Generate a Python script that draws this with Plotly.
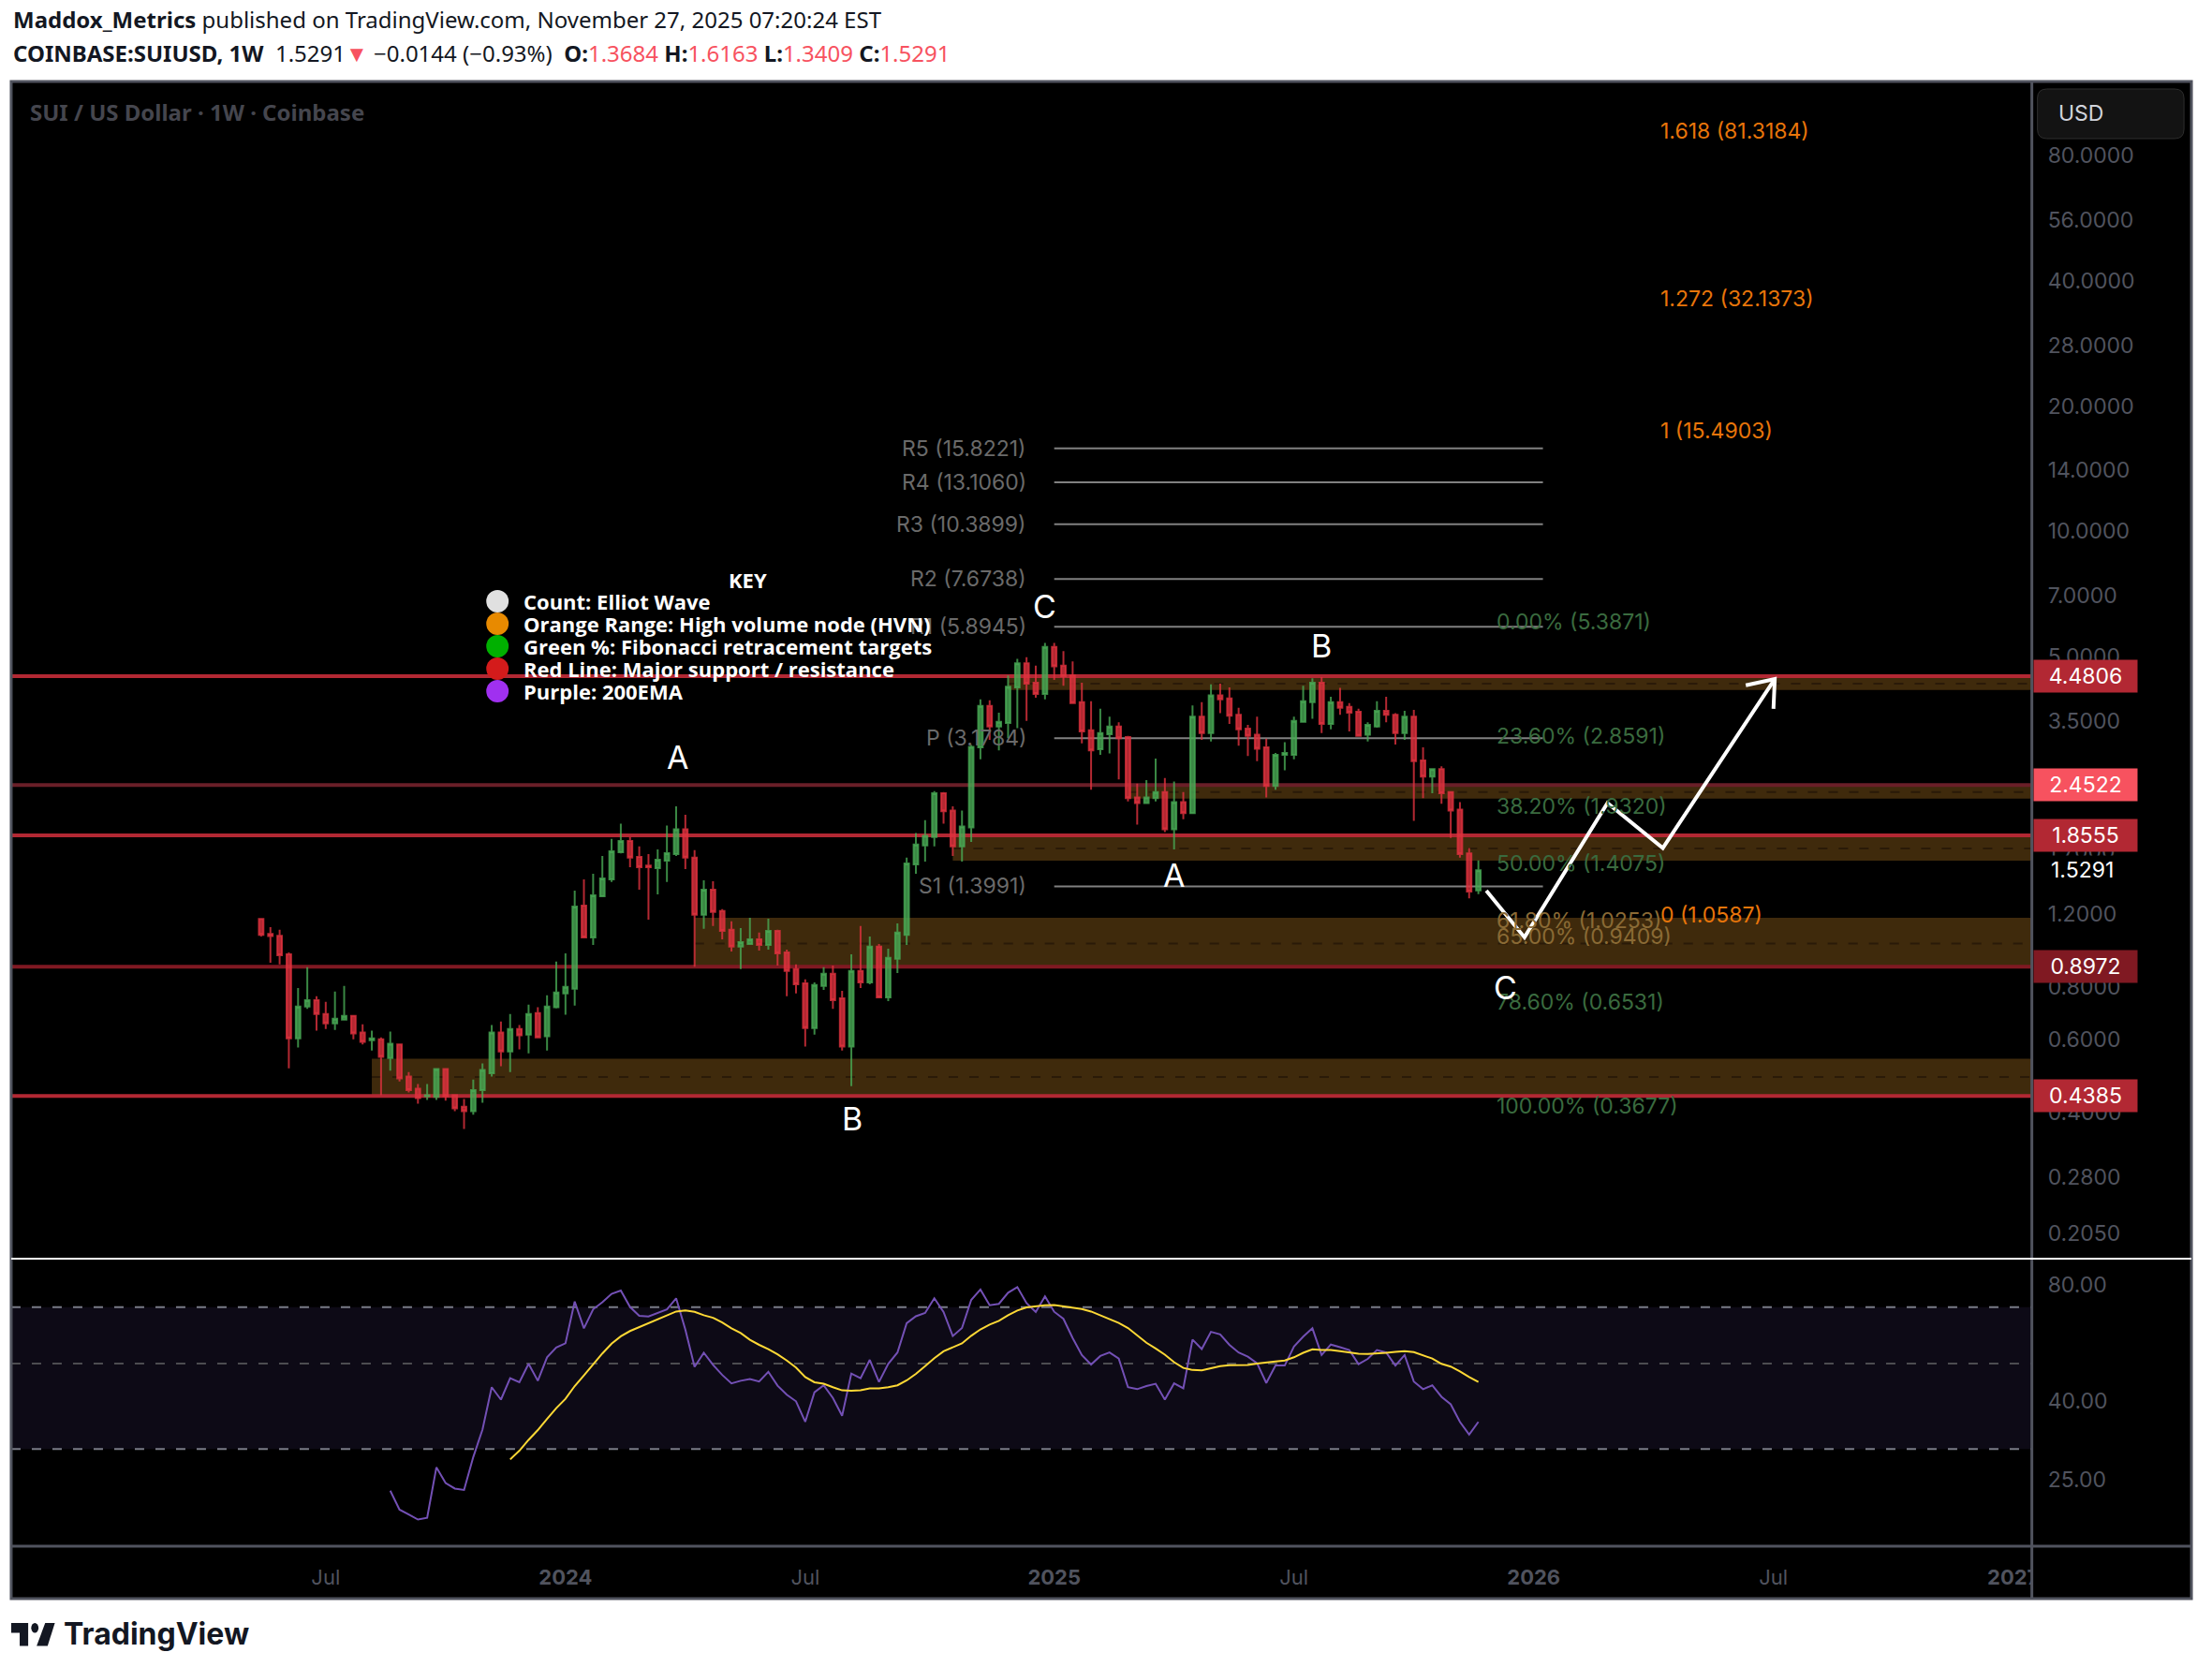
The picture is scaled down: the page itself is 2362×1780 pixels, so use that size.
import math
import pandas as pd
import plotly.graph_objects as go
from plotly.subplots import make_subplots

W = 2362
H = 1780

# weekly candles
opens = [1.168,1.075,1.064,.961,.603,.719,.745,.690,.655,.669,.683,.623,.597,.600,.541,.583,.488,.456,.438,.436,.509,.440,.413,.403,.453,.497,.623,.561,.635,.616,.694,.610,.716,.773,.794,1.258,1.055,1.325,1.455,1.69,1.80,1.647,1.57,1.547,1.613,1.673,1.92,1.64,1.195,1.374,1.22,1.10,1.002,1.017,1.044,1.012,1.094,.971,.885,.818,.638,.806,.862,.753,.576,.876,.822,1.002,.757,.937,1.07,1.58,1.756,1.84,2.345,2.13,1.745,1.94,3.02,3.80,3.39,3.46,4.21,4.81,4.32,4.06,5.27,4.75,4.50,3.88,3.32,2.99,3.25,3.39,3.20,2.29,2.22,2.28,2.36,1.92,2.23,2.10,3.58,3.27,4.03,3.96,3.62,3.35,3.24,3.02,2.44,2.90,2.90,3.48,3.88,4.32,3.44,3.88,3.78,3.68,3.24,3.39,3.70,3.62,3.27,3.58,2.81,2.57,2.68,2.36,2.14,1.68,1.3684]
highs = [1.170,1.117,1.100,.971,.797,.894,.761,.738,.781,.806,.685,.652,.629,.606,.626,.585,.500,.468,.468,.511,.511,.440,.431,.480,.525,.649,.662,.690,.649,.727,.716,.765,.922,.966,1.367,1.455,1.50,1.656,1.82,1.98,1.84,1.745,1.673,1.716,1.96,2.18,2.08,1.71,1.447,1.44,1.233,1.153,1.111,1.176,1.083,1.17,1.10,.986,.908,.836,.822,.894,.903,.785,.961,1.123,1.06,1.017,.991,1.14,1.64,1.88,2.02,2.37,2.36,2.18,2.13,3.06,3.94,3.92,3.66,4.50,4.93,4.98,4.75,5.39,5.39,5.15,4.86,4.32,3.90,3.74,3.58,3.47,3.22,2.47,2.52,2.84,2.55,2.50,2.36,3.81,3.88,4.28,4.30,4.21,3.76,3.42,3.58,3.17,2.93,3.11,3.58,4.25,4.43,4.46,4.00,4.20,3.86,3.74,3.47,3.90,4.00,3.65,3.70,3.72,3.02,2.69,2.72,2.37,2.23,1.73,1.6163]
lows = [1.060,.917,.908,.511,.573,.710,.629,.635,.632,.669,.600,.583,.564,.440,.504,.475,.447,.420,.429,.429,.427,.403,.365,.395,.422,.488,.517,.500,.567,.555,.603,.564,.712,.687,.723,1.05,1.012,1.32,1.433,1.68,1.555,1.374,1.164,1.339,1.433,1.656,1.54,.897,1.106,1.123,1.044,.975,.885,1.012,.981,.986,.903,.761,.773,.576,.616,.789,.71,.564,.463,.797,.814,.755,.741,.866,1.012,1.50,1.605,1.745,1.98,1.656,1.605,1.79,2.83,3.15,2.97,3.18,3.36,3.50,3.98,3.94,4.39,4.25,3.85,3.09,2.39,2.90,2.92,2.53,2.24,1.97,2.21,2.24,1.89,1.716,2.03,2.09,3.15,3.12,3.65,3.44,3.05,2.88,2.80,2.29,2.39,2.66,2.83,3.47,3.54,3.27,3.34,3.62,3.30,3.21,3.12,3.37,3.47,3.07,3.15,2.01,2.28,2.345,2.21,1.83,1.64,1.31,1.3409]
closes = [1.070,1.062,.956,.603,.719,.745,.690,.655,.672,.683,.620,.591,.603,.544,.585,.483,.453,.433,.440,.509,.438,.409,.403,.453,.506,.623,.561,.635,.613,.690,.606,.719,.777,.802,1.252,1.055,1.332,1.462,1.70,1.80,1.64,1.555,1.555,1.622,1.681,1.92,1.64,1.195,1.374,1.214,1.094,1.002,1.028,1.044,1.012,1.094,.966,.876,.814,.638,.81,.862,.745,.576,.876,.822,1.002,.757,.942,1.083,1.589,1.765,1.85,2.345,2.12,1.745,1.95,3.03,3.80,3.39,3.48,4.23,4.81,4.30,4.06,5.27,4.73,4.48,3.86,3.30,2.97,3.27,3.39,3.18,2.28,2.22,2.29,2.36,1.92,2.23,2.10,3.58,3.27,4.03,3.94,3.60,3.34,3.22,3.00,2.44,2.90,2.93,3.50,3.90,4.32,3.44,3.88,3.76,3.66,3.22,3.42,3.70,3.62,3.27,3.58,2.80,2.57,2.68,2.345,2.13,1.673,1.36,1.5291]
dates = pd.date_range("2023-05-15", periods=len(opens), freq="7D")
assert len(opens) == len(highs) == len(lows) == len(closes) == 133, (len(opens), len(highs), len(lows), len(closes))

# rsi + its moving average, both run up to the last candle
rsi_values = [23.4,20.9,20.3,19.7,19.9,26.9,24.5,23.7,23.5,28.6,33.7,43.4,40.3,45.8,44.7,49.9,45.1,51.9,55.0,56.4,72.4,61.7,69.1,72.1,75.8,77.3,70.1,66.5,66.2,67.6,69.1,73.8,61.2,49.0,53.3,49.6,46.7,44.4,45.1,45.6,44.9,47.6,43.8,41.5,39.9,35.3,42.1,43.9,40.7,36.6,47.1,45.8,51.1,44.8,49.9,53.4,63.6,66.3,67.6,73.8,68.0,58.9,61.8,73.1,77.8,70.8,71.4,76.3,78.9,71.7,68.0,74.7,68.1,65.3,58.2,52.6,49.7,52.3,53.4,51.5,43.4,42.9,43.7,44.3,40.3,44.4,43.1,57.7,54.5,60.4,59.5,55.9,53.4,52.1,50.1,44.5,49.4,49.4,55.3,58.7,61.7,52.6,56.0,55.1,54.2,49.8,51.4,54.2,53.4,49.4,52.6,44.9,42.9,43.9,41.0,39.2,35.3,32.7,35.3]
rsi_ma = [28.2,29.7,31.7,33.6,35.9,38.3,40.5,43.7,46.6,49.9,53.1,56.3,58.8,60.7,62.1,63.7,64.9,66.6,68.2,68.6,68.1,66.7,65.7,63.9,61.7,60.0,57.6,55.9,54.5,52.8,50.9,48.8,46.1,44.7,44.3,43.4,42.6,42.5,42.6,43.1,43.1,43.4,43.9,45.2,47.0,49.2,51.6,53.8,55.0,56.4,59.0,61.3,63.1,64.5,66.7,68.6,69.9,70.4,70.8,70.9,70.3,69.5,69.2,68.2,66.7,65.0,63.7,61.8,59.3,56.6,54.7,52.7,50.4,48.7,48.1,48.0,48.6,49.2,49.5,49.6,49.6,50.0,50.2,50.6,50.9,51.9,53.3,54.4,54.2,54.2,53.8,53.3,53.0,52.9,53.0,53.3,53.6,53.8,53.5,52.6,51.5,49.9,49.1,47.7,46.1,44.8]

# levels drawn on the chart
level_prices = [4.4806, 2.4522, 1.8555, 0.8972, 0.4385]
level_lines = ["#b22833", "#6a1f28", "#b22833", "#801922", "#b22833"]
level_boxes = ["#b22833", "#f7525f", "#b22833", "#801922", "#b22833"]

zone_starts = ["2023-08-07", "2024-04-08", "2024-10-21", "2025-03-03", "2024-12-02"]
zone_tops = [0.5386, 1.176, 1.8555, 2.4522, 4.4806]
zone_bottoms = [0.4385, 0.8972, 1.613, 2.275, 4.15]
zone_mids = [0.487, 1.02, 1.725, 2.36, 4.30]

pivot_names = ["R5", "R4", "R3", "R2", "R1", "P", "S1"]
pivot_prices = [15.8221, 13.1060, 10.3899, 7.6738, 5.8945, 3.1784, 1.3991]

fib_names = ["0.00%", "23.60%", "38.20%", "50.00%", "61.80%", "65.00%", "78.60%", "100.00%"]
fib_prices = [5.3871, 2.8591, 1.9320, 1.4075, 1.0253, 0.9409, 0.6531, 0.3677]
fib_colors = ["#3a6b3f", "#3a6b3f", "#3a6b3f", "#3a6b3f", "#8a6a35", "#8a6a35", "#3a6b3f", "#3a6b3f"]

ext_names = ["1.618", "1.272", "1", "0"]
ext_prices = [81.3184, 32.1373, 15.4903, 1.0587]

wave_names = ["A", "B", "C", "A", "B", "C"]
wave_px = [726, 913, 1119, 1258, 1416, 1613]
wave_py = [809, 1194, 648, 934, 690, 1054]

path_dates = ["2025-11-30", "2025-12-29", "2026-03-02", "2026-04-13", "2026-07-07"]
path_prices = [1.367, 1.055, 2.22, 1.73, 4.41]
head_dates = ["2026-06-15", "2026-07-07", "2026-07-06"]
head_prices = [4.26, 4.41, 3.74]

price_ticks = [80, 56, 40, 28, 20, 14, 10, 7, 5, 3.5, 2.4, 1.7, 1.2, 0.8, 0.6, 0.4, 0.28, 0.205]
rsi_ticks = [80, 40, 25]
rsi_lines = [70, 50, 30]
rsi_line_colors = ["#787b86", "#4c4c50", "#787b86"]
time_ticks = ["2023-07-03", "2024-01-01", "2024-07-01", "2025-01-06", "2025-07-07", "2026-01-05", "2026-07-06", "2027-01-04"]
time_labels = ["Jul", "<b>2024</b>", "Jul", "<b>2025</b>", "Jul", "<b>2026</b>", "Jul", "<b>2027</b>"]

key_names = ["Count: Elliot Wave", "Orange Range: High volume node (HVN)", "Green %: Fibonacci retracement targets",
             "Red Line: Major support / resistance", "Purple: 200EMA"]
key_colors = ["#e0e0e0", "#e88a00", "#00b000", "#d41b1b", "#a030f0"]
key_py = [642, 666, 690, 714, 738]


def px(x):
    return x / W


def py(y):
    return 1 - y / H


def week_at(x):
    # last candle sits at x=1584, one week is 9.88 pixels
    return dates[-1] + pd.Timedelta(days=(x - 1584) / 9.88 * 7)


x_left = str(week_at(12))
x_right = str(week_at(2177))

fig = make_subplots(rows=2, cols=1, shared_xaxes=True, vertical_spacing=0)

fig.add_trace(go.Candlestick(
    x=dates, open=opens, high=highs, low=lows, close=closes,
    increasing=dict(line=dict(color="rgba(72,170,85,0.8)", width=2), fillcolor="rgba(72,170,85,0.8)"),
    decreasing=dict(line=dict(color="rgba(224,50,63,0.8)", width=2), fillcolor="rgba(224,50,63,0.8)"),
    whiskerwidth=0, hoverinfo="skip",
), row=1, col=1)

fig.add_trace(go.Scatter(x=path_dates, y=path_prices, mode="lines", line=dict(color="white", width=4), hoverinfo="skip"), row=1, col=1)
fig.add_trace(go.Scatter(x=head_dates, y=head_prices, mode="lines", line=dict(color="white", width=4), hoverinfo="skip"), row=1, col=1)

fig.add_trace(go.Scatter(x=dates[-len(rsi_values):], y=rsi_values, mode="lines", line=dict(color="#7350b5", width=2), hoverinfo="skip"), row=2, col=1)
fig.add_trace(go.Scatter(x=dates[-len(rsi_ma):], y=rsi_ma, mode="lines", line=dict(color="#fdd835", width=2), hoverinfo="skip"), row=2, col=1)

shapes = []

# page pieces
shapes.append(dict(type="rect", xref="paper", yref="paper", x0=px(12), x1=px(2348), y0=py(1707), y1=py(87), fillcolor="black", line=dict(width=0), layer="below"))

# rsi band
shapes.append(dict(type="rect", xref="x2", yref="y2", x0=x_left, x1=x_right, y0=30, y1=70, fillcolor="#0d0a16", line=dict(width=0), layer="below"))
for v, c in zip(rsi_lines, rsi_line_colors):
    shapes.append(dict(type="line", xref="x2", yref="y2", x0=x_left, x1=x_right, y0=v, y1=v, line=dict(color=c, width=2, dash="10px,12px"), layer="below"))

# hvn zones
for s, t, b, m in zip(zone_starts, zone_tops, zone_bottoms, zone_mids):
    shapes.append(dict(type="rect", xref="x", yref="y", x0=s, x1=x_right, y0=b, y1=t, fillcolor="#3f2a0c", line=dict(width=0), layer="below"))
    shapes.append(dict(type="line", xref="x", yref="y", x0=s, x1=x_right, y0=m, y1=m, line=dict(color="#2a1a08", width=2, dash="10px,12px"), layer="below"))

# support / resistance
for v, c in zip(level_prices, level_lines):
    shapes.append(dict(type="line", xref="x", yref="y", x0=x_left, x1=x_right, y0=v, y1=v, line=dict(color=c, width=4), layer="below"))

# yearly pivots
for v in pivot_prices:
    shapes.append(dict(type="line", xref="x", yref="y", x0="2025-01-06", x1="2026-01-12", y0=v, y1=v, line=dict(color="#808080", width=2), layer="below"))

# frame + panes
frame = dict(color="#50535e", width=3)
shapes.append(dict(type="rect", xref="paper", yref="paper", x0=px(2178), x1=px(2346), y0=py(1706), y1=py(1653), fillcolor="black", line=dict(width=0)))
shapes.append(dict(type="rect", xref="paper", yref="paper", x0=px(12), x1=px(2348), y0=py(1707), y1=py(87), line=frame))
shapes.append(dict(type="line", xref="paper", yref="paper", x0=px(2177), x1=px(2177), y0=py(1707), y1=py(87), line=frame))
shapes.append(dict(type="line", xref="paper", yref="paper", x0=px(12), x1=px(2348), y0=py(1651), y1=py(1651), line=frame))
shapes.append(dict(type="line", xref="paper", yref="paper", x0=px(12), x1=px(2348), y0=py(1344), y1=py(1344), line=dict(color="white", width=2)))

# usd button
bx0, bx1, by0, by1 = px(2183), px(2340), py(95), py(148)
rx, ry = px(10), 10 / H
shapes.append(dict(type="path", xref="paper", yref="paper",
                   path=f"M{bx0+rx},{by0} L{bx1-rx},{by0} Q{bx1},{by0} {bx1},{by0-ry} L{bx1},{by1+ry} Q{bx1},{by1} {bx1-rx},{by1} L{bx0+rx},{by1} Q{bx0},{by1} {bx0},{by1+ry} L{bx0},{by0-ry} Q{bx0},{by0} {bx0+rx},{by0} Z",
                   fillcolor="#131313", line=dict(color="#2e2e2e", width=1)))

# key circles
for c, y in zip(key_colors, key_py):
    shapes.append(dict(type="circle", xref="paper", yref="paper", x0=px(521), x1=px(545), y0=py(y + 12), y1=py(y - 12), fillcolor=c, line=dict(width=0)))

# tradingview logo
lx, ly = 12, 1733
sx, sy = 1.3, 1.75
def lp(a, b):
    return f"{px(lx + a * sx)},{py(ly + b * sy)}"
logo = "#131722"
shapes.append(dict(type="path", xref="paper", yref="paper", fillcolor=logo, line=dict(width=0),
                   path=f"M{lp(0,0)} L{lp(14,0)} L{lp(14,14)} L{lp(7,14)} L{lp(7,6)} L{lp(0,6)} Z"))
shapes.append(dict(type="circle", xref="paper", yref="paper", fillcolor=logo, line=dict(width=0),
                   x0=px(lx + 16.5 * sx), x1=px(lx + 22.5 * sx), y0=py(ly + 6 * sy), y1=py(ly)))
shapes.append(dict(type="path", xref="paper", yref="paper", fillcolor=logo, line=dict(width=0),
                   path=f"M{lp(28,0)} L{lp(36,0)} L{lp(30,14)} L{lp(21,14)} Z"))

ann = []


def text(x, y, s, size, color, anchor="left", family="Inter", **kw):
    ann.append(dict(xref="paper", yref="paper", x=px(x), y=py(y), text=s, xanchor=anchor, yanchor="middle", showarrow=False,
                    font=dict(size=size, color=color, family=family), **kw))


def price_text(x, price, s, size, color, anchor="left", shift=0, **kw):
    ann.append(dict(xref="paper", yref="y", x=px(x), y=math.log10(price), text=s, xanchor=anchor, yanchor="middle", yshift=shift, showarrow=False,
                    font=dict(size=size, color=color, family="Inter"), **kw))


# header
text(12, 21, "<b>Maddox_Metrics</b> published on TradingView.com, November 27, 2025 07:20:24 EST", 24, "#131722", family="Noto Sans")
red = "#f7525f"
line2 = (f"<b>COINBASE:SUIUSD, 1W</b>  1.5291<span style='color:{red}'>▼</span> −0.0144 (−0.93%)  "
         f"<b>O:</b><span style='color:{red}'>1.3684</span> <b>H:</b><span style='color:{red}'>1.6163</span> "
         f"<b>L:</b><span style='color:{red}'>1.3409</span> <b>C:</b><span style='color:{red}'>1.5291</span>")
text(12, 57, line2, 24, "#131722", family="Noto Sans")
text(30, 120, "<b>SUI / US Dollar · 1W · Coinbase</b>", 24, "#45464e", family="Noto Sans")
text(2203, 121, "USD", 23, "#d1d4dc")

for n, v in zip(pivot_names, pivot_prices):
    price_text(1102, v, f"{n} ({v:.4f})", 23, "#6a6a6a", anchor="right")
for n, v, c in zip(fib_names, fib_prices, fib_colors):
    price_text(1601, v, f"{n} ({v:.4f})", 23, c, shift=23)
for n, v in zip(ext_names, ext_prices):
    price_text(1777, v, f"{n} ({v:.4f})", 23, "#e8750a", shift=23)

for n, x, y in zip(wave_names, wave_px, wave_py):
    text(x, y, n, 34, "white", anchor="center")

# key
text(801, 619, "<b>KEY</b>", 22, "white", anchor="center", family="Open Sans")
for n, y in zip(key_names, key_py):
    text(559, y, f"<b>{n}</b>", 22, "white", family="Open Sans")

# price boxes on the scale
price_text(2195, 1.5291, "1.5291", 23, "white", bgcolor="black")
for v, c in zip(level_prices, level_boxes):
    price_text(2178, v, f"{v:.4f}", 23, "white", width=110, height=34, bgcolor=c, align="center", borderpad=0)

# footer
text(66, 1744, "<b>TradingView</b>", 32, "#131722")

fig.update_layout(
    width=W, height=H,
    margin=dict(l=0, r=0, t=0, b=0, pad=0),
    paper_bgcolor="white",
    plot_bgcolor="rgba(0,0,0,0)",
    showlegend=False,
    hovermode=False,
    shapes=shapes,
    annotations=ann,
    xaxis=dict(domain=[px(12), px(2177)], range=[x_left, x_right], rangeslider=dict(visible=False), showgrid=False,
               zeroline=False, showticklabels=False, ticks=""),
    xaxis2=dict(domain=[px(12), px(2177)], range=[x_left, x_right], showgrid=False, zeroline=False, ticks="",
                tickmode="array", tickvals=time_ticks, ticktext=time_labels, ticklabelstandoff=18,
                tickfont=dict(size=22, color="#50535e", family="Inter")),
    yaxis=dict(domain=[py(1344), py(87)], type="log", side="right",
               range=[math.log10(0.178), math.log10(120.7)], showgrid=False, zeroline=False, ticks="",
               tickmode="array", tickvals=price_ticks, ticktext=[f"{v:.4f}" for v in price_ticks], ticklabelstandoff=16,
               tickfont=dict(size=23, color="#50535e", family="Inter")),
    yaxis2=dict(domain=[py(1651), py(1344)], type="log", side="right",
                range=[math.log10(16.8), math.log10(93.5)], showgrid=False, zeroline=False, ticks="",
                tickmode="array", tickvals=rsi_ticks, ticktext=[f"{v:.2f}" for v in rsi_ticks], ticklabelstandoff=16,
                tickfont=dict(size=23, color="#50535e", family="Inter")),
)

fig.write_html("out.html", config={"displayModeBar": False},
               post_script="document.body.style.margin='0';document.body.style.overflow='hidden';")
